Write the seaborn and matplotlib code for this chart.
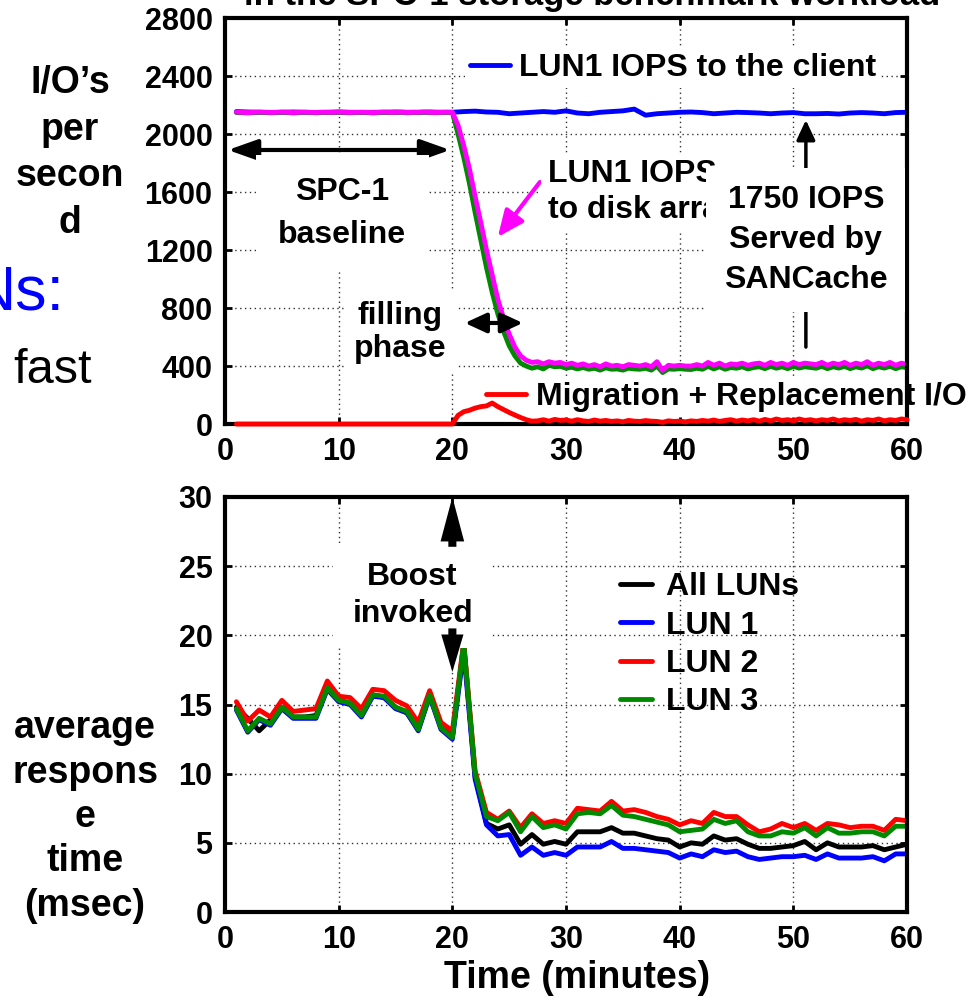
import numpy as np
import matplotlib
matplotlib.use("Agg")
import matplotlib.pyplot as plt
import seaborn as sns

# ---------------- data ----------------
# top panel: IOPS, sampled every 0.5 minute from 1 to 60
minutes_fine = np.arange(1.0, 60.01, 0.5)
# bottom panel: response time sampled every minute
minutes = np.arange(1, 61)

iops_client = [
    2155, 2152, 2150, 2148, 2150, 2152, 2150, 2148, 2150, 2152,
    2150, 2148, 2150, 2150, 2152, 2150, 2150, 2152, 2150, 2150,
    2155, 2158, 2152, 2150, 2140, 2145, 2150, 2155, 2150, 2160,
    2145, 2140, 2150, 2155, 2160, 2172, 2130, 2140, 2145, 2150,
    2152, 2148, 2140, 2145, 2150, 2148, 2145, 2140, 2145, 2148,
    2140, 2140, 2142, 2138, 2145, 2148, 2145, 2140, 2148, 2150,
]

iops_disk = [
    2152, 2150, 2148, 2150, 2152, 2151, 2149, 2150, 2152, 2150,
    2148, 2150, 2151, 2150, 2149, 2151, 2150, 2150, 2152, 2150,
    2149, 2150, 2151, 2150, 2148, 2150, 2152, 2150, 2150, 2151,
    2149, 2150, 2150, 2152, 2150, 2149, 2150, 2151, 2150,
    2060, 1920, 1760, 1570, 1390, 1200, 1030, 860, 730, 620,
    530, 470, 440, 425, 430, 415, 430, 420, 425, 410,
    420, 405, 415, 400, 410, 395, 415, 400, 405, 395,
    410, 405, 400, 410, 395, 430, 370, 405, 400, 405,
    400, 400, 410, 400, 425, 405, 420, 400, 415, 410,
    420, 405, 415, 420, 405, 425, 410, 420, 405, 425,
    410, 420, 415, 410, 425, 405, 420, 410, 425, 405,
    420, 410, 430, 405, 420, 410, 425, 405, 420, 410,
]

iops_disk_other = [
    2148, 2147, 2146, 2148, 2149, 2148, 2147, 2148, 2149, 2148,
    2146, 2148, 2149, 2148, 2147, 2148, 2148, 2148, 2149, 2148,
    2147, 2148, 2149, 2148, 2146, 2148, 2149, 2148, 2148, 2149,
    2147, 2148, 2148, 2149, 2148, 2147, 2148, 2149, 2148,
    2000, 1840, 1660, 1460, 1270, 1080, 910, 760, 640, 540,
    470, 420, 400, 385, 395, 380, 405, 395, 398, 385,
    392, 380, 390, 378, 385, 372, 388, 378, 380, 372,
    385, 380, 378, 385, 372, 400, 355, 380, 378, 382,
    378, 376, 385, 378, 398, 380, 395, 378, 390, 385,
    395, 380, 390, 395, 382, 398, 385, 395, 382, 398,
    386, 395, 390, 385, 398, 382, 395, 386, 398, 382,
    395, 386, 402, 382, 395, 386, 398, 382, 395, 388,
]

iops_migration = [
    0, 0, 0, 0, 0, 0, 0, 0, 0, 0,
    0, 0, 0, 0, 0, 0, 0, 0, 0, 0,
    0, 0, 0, 0, 0, 0, 0, 0, 0, 0,
    0, 0, 0, 0, 0, 0, 0, 0, 0,
    60, 85, 95, 110, 120, 125, 145, 120, 100, 80,
    62, 45, 30, 20, 22, 30, 20, 32, 25, 28,
    20, 30, 22, 18, 28, 20, 25, 18, 22, 15,
    25, 20, 18, 24, 20, 18, 12, 22, 18, 20,
    15, 22, 18, 25, 20, 28, 18, 25, 30, 20,
    28, 22, 30, 20, 32, 22, 35, 25, 30, 22,
    35, 25, 30, 22, 30, 25, 35, 22, 30, 25,
    32, 20, 30, 25, 35, 22, 30, 25, 35, 30,
]

rt_all = [
    14.8, 14.0, 13.1, 13.9, 14.8, 14.1, 14.1, 14.2, 16.2, 15.3,
    15.1, 14.2, 15.7, 15.5, 14.8, 14.4, 13.2, 15.7, 13.3, 12.7,
    19.3, 9.8, 6.4, 6.0, 6.3, 4.9, 5.6, 4.9, 5.1, 4.9,
    5.8, 5.8, 5.8, 6.1, 5.7, 5.7, 5.5, 5.3, 5.2, 4.7,
    5.0, 4.9, 5.5, 5.2, 5.3, 4.9, 4.6, 4.6, 4.7, 4.8,
    5.1, 4.5, 5.0, 4.7, 4.7, 4.7, 4.8, 4.5, 4.7, 4.9,
]
rt_lun1 = [
    14.6, 13.0, 13.9, 13.5, 14.7, 14.0, 14.0, 14.0, 16.1, 15.2,
    15.0, 14.1, 15.6, 15.5, 14.7, 14.4, 13.1, 15.6, 13.2, 12.5,
    18.9, 9.6, 6.3, 5.5, 5.6, 4.1, 4.7, 4.1, 4.3, 4.1,
    4.7, 4.7, 4.7, 5.1, 4.6, 4.6, 4.5, 4.4, 4.3, 3.9,
    4.2, 4.0, 4.5, 4.3, 4.4, 4.0, 3.8, 3.9, 4.0, 4.0,
    4.1, 3.8, 4.2, 3.9, 3.9, 3.9, 4.0, 3.7, 4.2, 4.2,
]
rt_lun2 = [
    15.2, 13.8, 14.6, 14.1, 15.3, 14.5, 14.6, 14.7, 16.7, 15.6,
    15.5, 14.7, 16.1, 16.0, 15.3, 14.9, 13.7, 16.0, 13.7, 13.1,
    19.5, 10.2, 7.2, 6.7, 7.3, 6.1, 7.1, 6.4, 6.6, 6.4,
    7.5, 7.4, 7.3, 8.0, 7.3, 7.4, 7.2, 6.9, 6.7, 6.3,
    6.6, 6.4, 7.2, 6.9, 6.9, 6.3, 5.8, 6.0, 6.4, 6.1,
    6.4, 5.9, 6.4, 6.3, 6.1, 6.2, 6.2, 5.9, 6.7, 6.6,
]
rt_lun3 = [
    14.7, 13.1, 14.0, 13.6, 14.8, 14.1, 14.1, 14.1, 16.2, 15.3,
    15.1, 14.2, 15.7, 15.6, 14.8, 14.5, 13.2, 15.7, 13.3, 12.6,
    19.4, 10.0, 6.9, 6.6, 7.2, 5.8, 6.9, 6.1, 6.3, 6.0,
    7.1, 7.2, 7.1, 7.7, 7.0, 6.9, 6.7, 6.5, 6.3, 5.8,
    5.9, 6.0, 6.7, 6.4, 6.6, 5.8, 5.5, 5.5, 5.8, 5.7,
    6.1, 5.5, 6.1, 5.7, 5.7, 5.8, 5.8, 5.5, 6.2, 6.2,
]

x_ticks = [0, 10, 20, 30, 40, 50, 60]
iops_ticks = [0, 400, 800, 1200, 1600, 2000, 2400, 2800]
rt_ticks = [0, 5, 10, 15, 20, 25, 30]

# ---------------- style ----------------
sns.set_style("ticks")
plt.rcParams["font.family"] = ["Liberation Sans", "DejaVu Sans"]
plt.rcParams["font.weight"] = "bold"
for key in ["text.color", "axes.labelcolor", "xtick.color", "ytick.color"]:
    plt.rcParams[key] = "black"

BLUE, RED, GREEN, MAG = "#0000ff", "#ff0000", "#008a00", "#ff00ff"
ANN = 23

fig = plt.figure(figsize=(9.75, 10.02), dpi=100)
ax1 = fig.add_axes([0.2308, 0.5768, 0.6995, 0.4052])
ax2 = fig.add_axes([0.2308, 0.0898, 0.6995, 0.4142])


def style(ax, yticks):
    ax.set_xlim(0, 60)
    ax.set_ylim(yticks[0], yticks[-1])
    ax.set_xticks(x_ticks)
    ax.set_yticks(yticks)
    ax.grid(True, linestyle=(0, (1, 2.5)), color="0.2", linewidth=1.0)
    ax.set_axisbelow(True)
    for s in ax.spines.values():
        s.set_visible(True)
        s.set_linewidth(3)
        s.set_color("black")
    ax.tick_params(direction="in", length=5, width=2, top=True, right=True,
                   labelsize=22, pad=9, colors="black")
    for lab in ax.get_xticklabels() + ax.get_yticklabels():
        lab.set_fontweight("bold")
    ax.set_xlabel("")
    ax.set_ylabel("")


# ---------------- top panel ----------------
sns.lineplot(x=minutes, y=iops_client, ax=ax1, color=BLUE, lw=3.5)
sns.lineplot(x=minutes_fine, y=iops_disk_other, ax=ax1, color=GREEN, lw=3.5)
sns.lineplot(x=minutes_fine, y=iops_disk, ax=ax1, color=MAG, lw=3.5)
sns.lineplot(x=minutes_fine, y=iops_migration, ax=ax1, color=RED, lw=3.5)
style(ax1, iops_ticks)
lines1 = ax1.get_lines()
lines1[3].set_clip_on(False)
lines1[3].set_zorder(3)

leg_a = ax1.legend([lines1[0]], ["LUN1 IOPS to the client"], loc="center left",
                   bbox_to_anchor=(0.352, 0.877), borderaxespad=0, borderpad=0.15,
                   handlelength=1.25, handletextpad=0.3, frameon=True, fancybox=False,
                   framealpha=1, facecolor="white", edgecolor="none",
                   prop={"size": ANN, "weight": "bold"})
leg_a.set_zorder(6)
ax1.add_artist(leg_a)
leg_b = ax1.legend([lines1[3]], ["Migration + Replacement I/O"], loc="center left",
                   bbox_to_anchor=(0.378, 0.066), borderaxespad=0, borderpad=0.1,
                   handlelength=1.25, handletextpad=0.3, frameon=True, fancybox=False,
                   framealpha=1, facecolor="white", edgecolor="none",
                   prop={"size": ANN, "weight": "bold"})
leg_b.set_zorder(1.8)

# SPC-1 baseline
ax1.annotate("", xy=(0.26, 1890), xytext=(19.8, 1890),
             arrowprops=dict(arrowstyle="<|-|>,head_length=0.9,head_width=0.32",
                             color="black", lw=3, shrinkA=0, shrinkB=0, mutation_scale=20))
ax1.text(10.3, 1450, "SPC-1\nbaseline", ha="center", va="center", fontsize=ANN,
         fontweight="bold", linespacing=1.55, zorder=4,
         bbox=dict(boxstyle="square,pad=0.7", fc="white", ec="none"))

# filling phase
ax1.text(15.4, 630, "filling\nphase", ha="center", va="center", fontsize=ANN,
         fontweight="bold", linespacing=1.15, zorder=4,
         bbox=dict(boxstyle="square,pad=0.3", fc="white", ec="none"))
ax1.annotate("", xy=(21.1, 697), xytext=(26.2, 697),
             arrowprops=dict(arrowstyle="<|-|>,head_length=0.65,head_width=0.3",
                             color="black", lw=3, shrinkA=0, shrinkB=0, mutation_scale=20))

# LUN1 IOPS to disk array
ax1.text(28.4, 1600, "LUN1 IOPS\nto disk array", ha="left", va="center", fontsize=ANN,
         fontweight="bold", linespacing=1.25, zorder=4,
         bbox=dict(boxstyle="square,pad=0.2", fc="white", ec="none"))
ax1.annotate("", xy=(24.0, 1290), xytext=(27.7, 1669),
             arrowprops=dict(arrowstyle="-|>,head_length=0.8,head_width=0.35",
                             color=MAG, lw=3, shrinkA=0, shrinkB=0, mutation_scale=20))

# 1750 IOPS served by SANCache
ax1.annotate("", xy=(51.1, 2097), xytext=(51.1, 531),
             arrowprops=dict(arrowstyle="-|>,head_length=0.6,head_width=0.28",
                             color="black", lw=2.5, shrinkA=0, shrinkB=0, mutation_scale=20),
             zorder=3)
ax1.text(51.1, 1270, "1750 IOPS\nServed by\nSANCache", ha="center", va="center",
         fontsize=ANN, fontweight="bold", linespacing=1.42, zorder=5,
         bbox=dict(boxstyle="square,pad=0.55", fc="white", ec="none"))

# ---------------- bottom panel ----------------
sns.lineplot(x=minutes, y=rt_all, ax=ax2, color="black", lw=3.5)
sns.lineplot(x=minutes, y=rt_lun1, ax=ax2, color=BLUE, lw=3.5)
sns.lineplot(x=minutes, y=rt_lun2, ax=ax2, color=RED, lw=3.5)
sns.lineplot(x=minutes, y=rt_lun3, ax=ax2, color=GREEN, lw=3.5)
style(ax2, rt_ticks)
lines2 = ax2.get_lines()
ax2.legend(lines2[:4], ["All LUNs", "LUN 1", "LUN 2", "LUN 3"], loc="upper left",
           bbox_to_anchor=(0.570, 0.834), borderaxespad=0, borderpad=0.2,
           handlelength=1.0, handletextpad=0.45, labelspacing=0.26, frameon=False,
           prop={"size": ANN, "weight": "bold"})

ax2.text(16.5, 22.9, "Boost\ninvoked", ha="center", va="center", fontsize=ANN,
         fontweight="bold", linespacing=1.3, zorder=4,
         bbox=dict(boxstyle="square,pad=0.6", fc="white", ec="none"))
ax2.annotate("", xy=(20, 30.0), xytext=(20, 26.4),
             arrowprops=dict(arrowstyle="simple,head_length=3.2,head_width=1.7,tail_width=0.58",
                             color="black", lw=0, shrinkA=0, shrinkB=0, mutation_scale=10),
             zorder=5, annotation_clip=False)
ax2.annotate("", xy=(20, 17.35), xytext=(20, 20.5),
             arrowprops=dict(arrowstyle="simple,head_length=2.7,head_width=1.6,tail_width=0.58",
                             color="black", lw=0, shrinkA=0, shrinkB=0, mutation_scale=10),
             zorder=5)

# ---------------- figure texts ----------------
fig.text(0.0718, 1 - 153 / 1002, "I/O\u2019s\nper\nsecon\nd", ha="center", va="center",
         fontsize=27, fontweight="bold", linespacing=1.38)
fig.text(0.0872, 1 - 817 / 1002, "average\nrespons\ne\ntime\n(msec)", ha="center",
         va="center", fontsize=27, fontweight="bold", linespacing=1.3)
fig.text(0.592, 1 - 978 / 1002, "Time (minutes)", ha="center", va="center",
         fontsize=27, fontweight="bold")
fig.text(0.607, 1 - 5 / 1002, "in the SPC-1 storage benchmark workload", ha="center",
         va="baseline", fontsize=25, fontweight="bold")
fig.text(65 / 975, 1 - 310 / 1002, "Ns:", ha="right", va="baseline", fontsize=45,
         fontweight="normal", color=BLUE)
fig.text(13 / 975, 1 - 383 / 1002, "fast", ha="left", va="baseline", fontsize=35,
         fontweight="normal", color="black")

fig.savefig("out.png", dpi=100)
